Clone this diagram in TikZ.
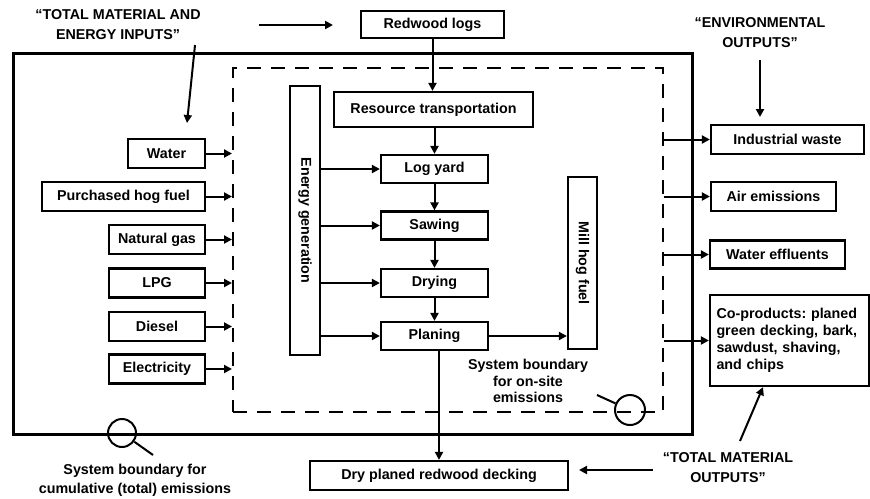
\documentclass[tikz,border=0pt]{standalone}
\usepackage{fontspec}
\setmainfont{Liberation Sans}
\usetikzlibrary{arrows.meta}
\frenchspacing
\begin{document}
\begin{tikzpicture}[x=1pt,y=-1pt,
  box/.style={draw,line width=2.2pt,font=\bfseries\fontsize{14.3}{17}\selectfont,inner sep=0pt,minimum height=29pt},
  arr/.style={line width=2pt,-{Triangle[length=8pt,width=8pt]}},
  lbl/.style={font=\bfseries\fontsize{14.3}{20}\selectfont,align=center,inner sep=0pt},
  bnd/.style={line width=2pt}]
\useasboundingbox (0,0) rectangle (870,498);
% boundaries
\node[draw,line width=3pt,minimum width=679.7pt,minimum height=381pt,inner sep=0pt] (total) at (352.85,243.5) {};
\node[draw,line width=2pt,dash pattern=on 14pt off 10pt,minimum width=430pt,minimum height=344pt,inner sep=0pt] (onsite) at (448,240) {};
% main chain
\node[box,minimum width=143pt,minimum height=27pt] (logs) at (432.5,24.5) {Redwood logs};
\node[box,minimum width=199pt,minimum height=35pt] (restrans) at (433.5,109.5) {Resource transportation};
\node[box,minimum width=107pt,minimum height=28pt] (logyard) at (434.5,169) {Log yard};
\node[box,minimum width=107pt,minimum height=28pt] (sawing) at (434.5,225.5) {Sawing};
\node[box,minimum width=107pt,minimum height=28pt] (drying) at (434.5,283) {Drying};
\node[box,minimum width=107pt,minimum height=28pt] (planing) at (434.5,336) {Planing};
\node[box,minimum width=269pt,minimum height=30pt,rotate=-90] (energy) at (305,220.5) {Energy generation};
\node[box,minimum width=172pt,minimum height=29pt,rotate=-90] (mill) at (582.5,263) {Mill hog fuel};
\node[box,minimum width=258pt] (decking) at (439,475.5) {Dry planed redwood decking};
% inputs
\node[box,minimum width=77pt] (water) at (166.5,153.5) {Water};
\node[box,minimum width=163pt] (hog) at (123.5,196.5) {Purchased hog fuel};
\node[box,minimum width=96pt] (gas) at (157,239.5) {Natural gas};
\node[box,minimum width=96pt] (lpg) at (157,283) {LPG};
\node[box,minimum width=96pt] (diesel) at (157,326.5) {Diesel};
\node[box,minimum width=96pt] (elec) at (157,369) {Electricity};
% outputs
\node[box,minimum width=153pt] (waste) at (787.5,139.5) {Industrial waste};
\node[box,minimum width=125pt] (air) at (773.5,196.5) {Air emissions};
\node[box,minimum width=135pt,minimum height=28pt] (effl) at (777.5,254.5) {Water effluents};
\node[box,minimum width=159pt,minimum height=91pt,align=left,text width=146pt] (coprod) at (789.5,340.5) {Co-products: planed\\green decking, bark,\\sawdust, shaving,\\and chips};
% chain arrows
\draw[arr] (logs.south) -- (logs.south |- restrans.north);
\draw[arr] (restrans.south -| logyard.north) -- (logyard.north);
\draw[arr] (logyard.south) -- (sawing.north);
\draw[arr] (sawing.south) -- (drying.north);
\draw[arr] (drying.south) -- (planing.north);
\draw[arr] (planing.south -| decking.north) -- (decking.north);
\draw[arr] (planing.east) -- (planing.east -| mill.south);
\foreach \n in {logyard,sawing,drying,planing}
  \draw[arr] (energy.north |- \n.west) -- (\n.west);
% input arrows
\foreach \n in {water,hog,gas,lpg,diesel,elec}
  \draw[arr] (\n.east) -- (\n.east -| onsite.west);
% output arrows
\foreach \n in {waste,air,effl,coprod}
  \draw[arr] (onsite.east |- \n.west) -- (\n.west);
% labels
\node[lbl] (inputs) at (118,25) {“TOTAL MATERIAL AND\\ENERGY INPUTS”};
\coordinate (in1s) at (259,25); \coordinate (in1e) at (333,25);
\draw[arr] (in1s) -- (in1e);
\coordinate (in2s) at (195,45); \coordinate (in2e) at (187,123);
\draw[arr] (in2s) -- (in2e);
\node[lbl] (env) at (760,33) {“ENVIRONMENTAL\\OUTPUTS”};
\coordinate (envs) at (760,60); \coordinate (enve) at (760,117);
\draw[arr] (envs) -- (enve);
\node[lbl] (outs) at (728,468) {“TOTAL MATERIAL\\OUTPUTS”};
\coordinate (out1s) at (653,470); \coordinate (out1e) at (579,470);
\draw[arr] (out1s) -- (out1e);
\coordinate (out2s) at (740,441);
\draw[arr] (out2s) -- (coprod.south -| 763,0);
\node[lbl,font=\bfseries\fontsize{14.3}{16.5}\selectfont] (onlbl) at (528,381) {System boundary\\for on-site\\emissions};
\node[draw,bnd,circle,minimum size=30pt,inner sep=0pt] (mag1) at (630,410) {};
\coordinate (h1) at (597,395);
\draw[bnd] (mag1) -- (h1);
\node[lbl,font=\bfseries\fontsize{14.3}{19}\selectfont] (cumlbl) at (135,480) {System boundary for\\cumulative (total) emissions};
\node[draw,bnd,circle,minimum size=28pt,inner sep=0pt] (mag2) at (122,433) {};
\coordinate (h2) at (153,455);
\draw[bnd] (mag2) -- (h2);
\end{tikzpicture}
\end{document}
